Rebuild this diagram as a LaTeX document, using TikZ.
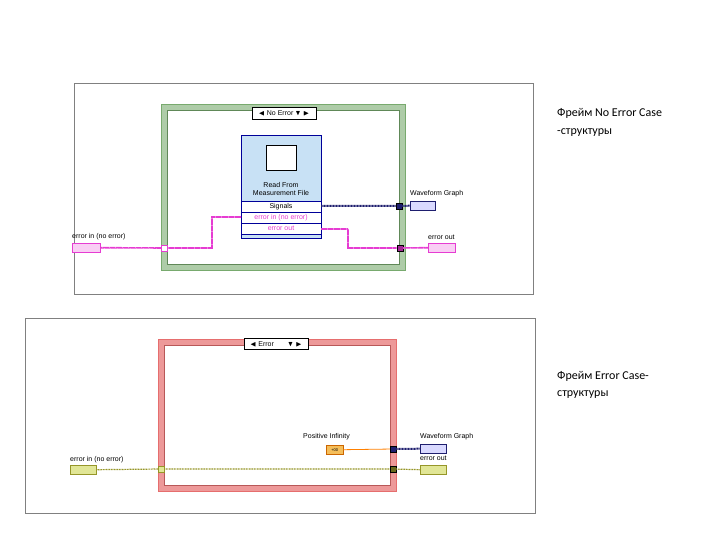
\documentclass[tikz,border=0pt]{standalone}
\usepackage{amssymb}
\usepackage{fontspec}
\setmainfont{Liberation Sans}
\newfontfamily\notefont{Carlito}
\usetikzlibrary{positioning}
\definecolor{casegreen}{RGB}{120,170,110}
\definecolor{casered}{RGB}{230,110,110}
\definecolor{vipblue}{RGB}{200,225,245}
\definecolor{wirepink}{RGB}{230,60,210}
\definecolor{wirenavy}{RGB}{30,30,110}
\definecolor{wireyellow}{RGB}{150,150,40}
\definecolor{termyellow}{RGB}{225,230,150}
\definecolor{termorange}{RGB}{245,190,90}
\tikzset{
  lbl/.style={font=\fontsize{7}{8}\selectfont, inner sep=0pt, anchor=south west},
  term/.style={draw, minimum width=#1, minimum height=9pt, inner sep=0pt, anchor=north west},
  tunnel/.style={draw, fill=#1, minimum size=6pt, inner sep=0pt},
  note/.style={font=\notefont\fontsize{12}{14}\selectfont, anchor=west, inner sep=0pt},
  pinkwire/.style={wirepink, line width=1.6pt, dash pattern=on 1pt off 0.3pt},
  navywire/.style={wirenavy, line width=2pt, dash pattern=on 1pt off 0.5pt},
  yelwire/.style={wireyellow, line width=1.2pt, dash pattern=on 1pt off 0.6pt},
}
\begin{document}
\begin{tikzpicture}[x=1pt,y=-1pt]
    \useasboundingbox (0,0) rectangle (720,540);

    % ---- No Error frame
    \draw[gray] (74,83) rectangle (533,294);
    \draw[casegreen, fill=casegreen!60] (161,104) rectangle (405,270);
    \draw[casegreen!80!black, fill=white] (167,110) rectangle (399,264);
    \node[draw, fill=white, minimum width=64pt, minimum height=12pt, inner sep=0pt,
      font=\fontsize{7}{8}\selectfont] (selok) at (284,113) {$\blacktriangleleft$ No Error $\blacktriangledown\blacktriangleright$};

    \draw[blue!60!black, fill=vipblue] (241,135) rectangle (321,238);
    \draw[fill=white] (266,145) rectangle (296,170);
    \node[font=\fontsize{7}{8}\selectfont, align=center] (vip) at (281,189) {Read From\\Measurement File};
    \foreach \y/\t/\c in {201/Signals/black, 212/error in (no error)/wirepink, 223/error out/wirepink}
      \draw[blue!60!black, fill=white] (241,\y) rectangle node[font=\fontsize{7}{8}\selectfont, text=\c, inner sep=0pt] {\t} (321,\y+11);
    \coordinate (sig) at (321,206);
    \coordinate (ein) at (241,217);
    \coordinate (eout) at (321,229);

    \node[lbl] (wgl) at (410,197) {Waveform Graph};
    \node[term=25pt, draw=wirenavy, fill=blue!15] (wg) at (410,201) {};
    \node[lbl] (eol) at (428,240) {error out};
    \node[term=27pt, draw=wirepink, fill=wirepink!25] (eo) at (428,243) {};
    \node[lbl] (eil) at (72,240) {error in (no error)};
    \node[term=28pt, draw=wirepink, fill=wirepink!25] (ei) at (72,243) {};
    \node[tunnel=wirenavy] (tsig) at (399,206) {};
    \node[tunnel=wirepink!70!black] (teo) at (400,248) {};
    \node[tunnel=white, draw=wirepink] (tei) at (164,248) {};

    \draw[navywire] (sig) -- (tsig) -- (wg.west);
    \draw[pinkwire] (ei.east) -- (tei) -- (212,248) -- (212,217) -- (ein);
    \draw[pinkwire] (eout) -- (348,229) -- (348,248) -- (teo) -- (eo.west);

    \node[note] (n1) at (557,113) {Фрейм No Error Case};
    \node[note] (n2) at (557,133) {-структуры};

    % ---- Error frame
    \draw[gray] (25,318) rectangle (535,513);
    \draw[casered, fill=casered!70] (158,339) rectangle (396,491);
    \draw[casered!80!black, fill=white] (164,345) rectangle (390,485);
    \node[draw, fill=white, minimum width=64pt, minimum height=11pt, inner sep=0pt,
      font=\fontsize{7}{8}\selectfont] (selerr) at (276,344) {$\blacktriangleleft$ Error\hspace{14pt}$\blacktriangledown\blacktriangleright$};

    \node[lbl] (pil) at (303,440) {Positive Infinity};
    \node[term=17pt, draw=orange!80!black, fill=termorange, font=\fontsize{4}{5}\selectfont] (pi) at (326,445) {+00};
    \node[lbl] (wgl2) at (420,440) {Waveform Graph};
    \node[term=26pt, draw=wirenavy, fill=blue!15] (wg2) at (420,444) {};
    \node[lbl] (eol2) at (420,461) {error out};
    \node[term=26pt, draw=wireyellow, fill=termyellow] (eo2) at (420,465) {};
    \node[lbl] (eil2) at (70,463) {error in (no error)};
    \node[term=26pt, draw=wireyellow, fill=termyellow] (ei2) at (70,465) {};
    \node[tunnel=wirenavy] (tpi) at (393,449) {};
    \node[tunnel=wireyellow!70!black] (teo2) at (393,469) {};
    \node[tunnel=termyellow, draw=wireyellow] (tei2) at (161,469) {};

    \draw[orange, line width=0.8pt] (pi.east) -- (tpi);
    \draw[navywire] (tpi) -- (wg2.west);
    \draw[yelwire] (ei2.east) -- (tei2) -- (teo2) -- (eo2.west);

    \node[note] (n3) at (557,376) {Фрейм Error Case-};
    \node[note] (n4) at (557,395) {структуры};
\end{tikzpicture}
\end{document}
